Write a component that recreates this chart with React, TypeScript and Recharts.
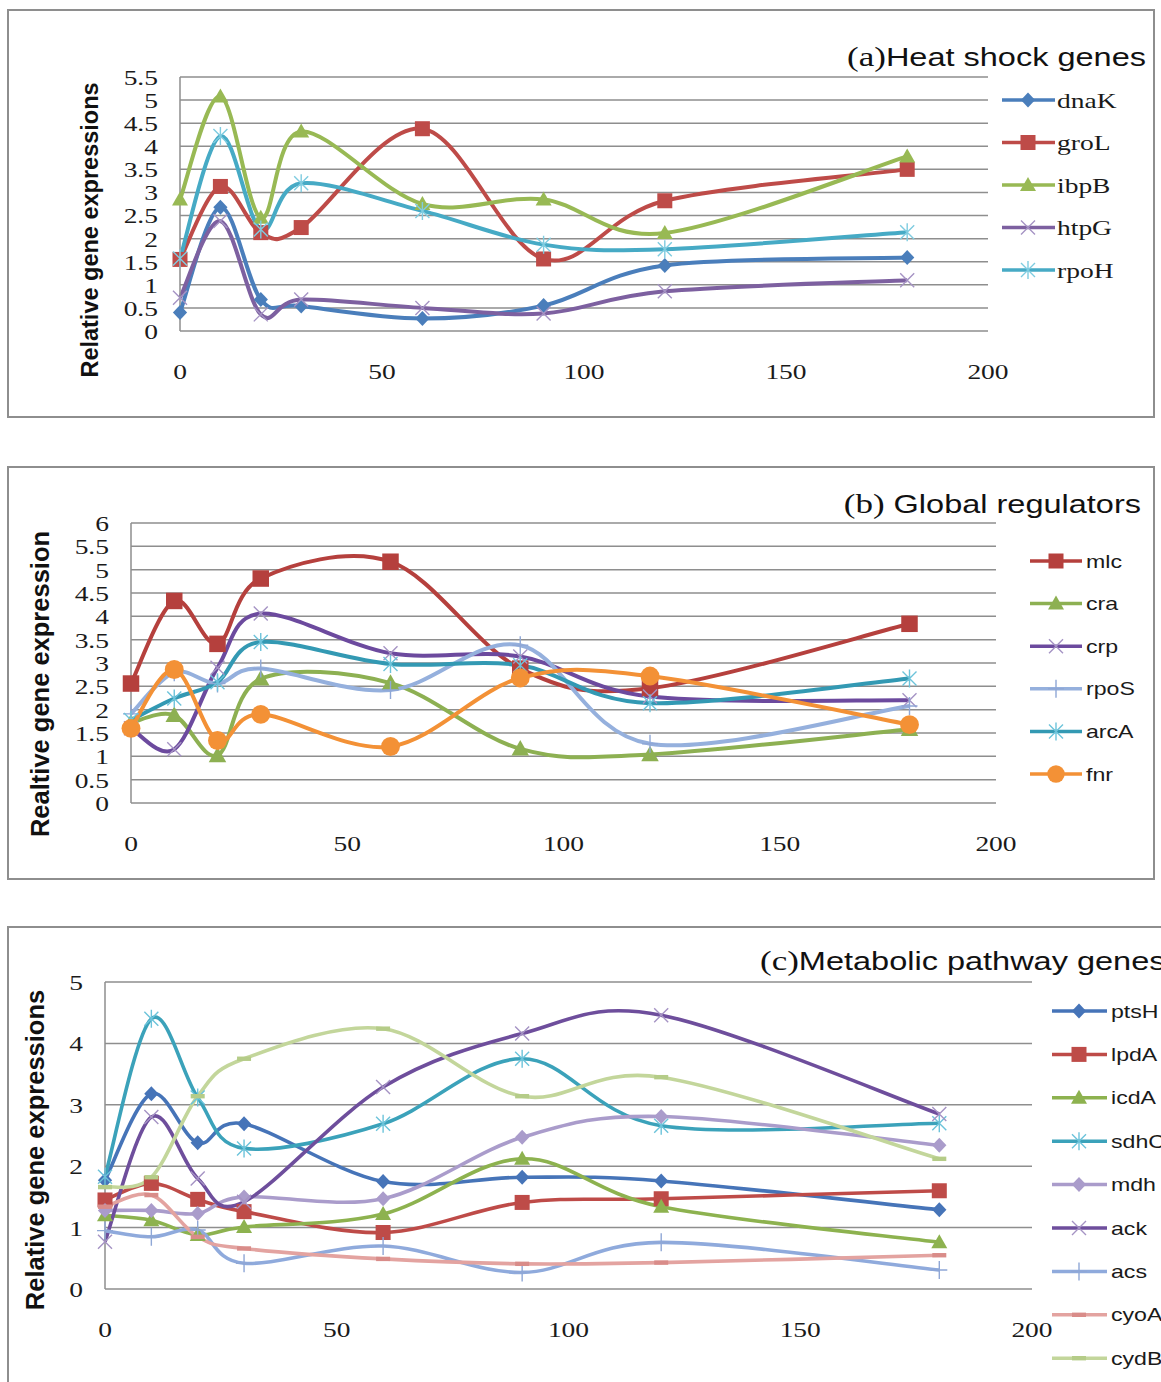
import React from "react";
import { LineChart, Line, XAxis, YAxis, CartesianGrid } from "recharts";

// sampling times (min)
const times = [0, 10, 20, 30, 60, 90, 120, 180];
const xTicks = [0, 50, 100, 150, 200];

// (a) heat shock genes
const dnaK = [0.4, 2.68, 0.68, 0.54, 0.27, 0.55, 1.42, 1.59];
const groL = [1.55, 3.13, 2.13, 2.24, 4.38, 1.56, 2.82, 3.5];
const ibpB = [2.85, 5.08, 2.45, 4.32, 2.75, 2.85, 2.12, 3.78];
const htpG = [0.72, 2.38, 0.36, 0.68, 0.5, 0.38, 0.86, 1.1];
const rpoH = [1.57, 4.22, 2.2, 3.2, 2.6, 1.87, 1.77, 2.14];
const ticksA = [0, 0.5, 1, 1.5, 2, 2.5, 3, 3.5, 4, 4.5, 5, 5.5];

// (b) global regulators
const mlc = [2.56, 4.33, 3.41, 4.81, 5.17, 2.88, 2.46, 3.84];
const cra = [1.72, 1.88, 1.02, 2.66, 2.57, 1.16, 1.04, 1.58];
const crp = [1.6, 1.15, 2.9, 4.06, 3.21, 3.14, 2.28, 2.2];
const rpoS = [1.91, 2.8, 2.56, 2.88, 2.42, 3.38, 1.27, 2.08];
const arcA = [1.78, 2.24, 2.59, 3.45, 2.98, 2.95, 2.14, 2.67];
const fnr = [1.6, 2.86, 1.34, 1.9, 1.21, 2.68, 2.72, 1.68];
const ticksB = [0, 0.5, 1, 1.5, 2, 2.5, 3, 3.5, 4, 4.5, 5, 5.5, 6];

// (c) metabolic pathway genes
const ptsH = [1.77, 3.18, 2.38, 2.69, 1.75, 1.82, 1.76, 1.29];
const lpdA = [1.45, 1.72, 1.46, 1.26, 0.92, 1.41, 1.47, 1.6];
const icdA = [1.2, 1.12, 0.88, 1.01, 1.22, 2.12, 1.34, 0.76];
const sdhC = [1.83, 4.4, 3.12, 2.29, 2.69, 3.75, 2.66, 2.7];
const mdh = [1.28, 1.28, 1.23, 1.5, 1.47, 2.47, 2.81, 2.34];
const ack = [0.77, 2.8, 1.8, 1.42, 3.29, 4.16, 4.46, 2.85];
const acs = [0.95, 0.85, 0.96, 0.42, 0.7, 0.27, 0.76, 0.31];
const cyoA = [1.34, 1.53, 0.85, 0.66, 0.49, 0.41, 0.43, 0.55];
const cydB = [1.66, 1.82, 3.14, 3.75, 4.24, 3.14, 3.45, 2.12];
const ticksC = [0, 1, 2, 3, 4, 5];

const SANS = "'Liberation Sans', Arial, sans-serif";
const SERIF = "'Liberation Serif', 'Times New Roman', serif";
const STRETCH = 1.25; // the figure is squashed wider than it is tall
const GRID = "#8e8e8e";

type Shape = "diamond" | "square" | "triangle" | "x" | "star" | "plus" | "circle" | "dash";
interface Series { name: string; values: number[]; color: string; shape: Shape; mark: string; }

const seriesA: Series[] = [
  { name: "dnaK", values: dnaK, color: "#4A7EBB", shape: "diamond", mark: "#4A7EBB" },
  { name: "groL", values: groL, color: "#BE4B48", shape: "square", mark: "#BE4B48" },
  { name: "ibpB", values: ibpB, color: "#98B954", shape: "triangle", mark: "#98B954" },
  { name: "htpG", values: htpG, color: "#7D60A0", shape: "x", mark: "#A593C4" },
  { name: "rpoH", values: rpoH, color: "#46AAC5", shape: "star", mark: "#7FCCE0" },
];
const seriesB: Series[] = [
  { name: "mlc", values: mlc, color: "#B5403D", shape: "square", mark: "#B5403D" },
  { name: "cra", values: cra, color: "#8DB052", shape: "triangle", mark: "#8DB052" },
  { name: "crp", values: crp, color: "#6C4A9E", shape: "x", mark: "#A593C4" },
  { name: "rpoS", values: rpoS, color: "#95B0DD", shape: "plus", mark: "#8FA7D6" },
  { name: "arcA", values: arcA, color: "#3399B3", shape: "star", mark: "#6CC3DA" },
  { name: "fnr", values: fnr, color: "#F39136", shape: "circle", mark: "#F39136" },
];
const seriesC: Series[] = [
  { name: "ptsH", values: ptsH, color: "#4674B8", shape: "diamond", mark: "#4674B8" },
  { name: "lpdA", values: lpdA, color: "#BE4B48", shape: "square", mark: "#BE4B48" },
  { name: "icdA", values: icdA, color: "#8DB24F", shape: "triangle", mark: "#8DB24F" },
  { name: "sdhC", values: sdhC, color: "#3BA2BA", shape: "star", mark: "#6CC3DA" },
  { name: "mdh", values: mdh, color: "#AA9CCB", shape: "diamond", mark: "#AA9CCB" },
  { name: "ack", values: ack, color: "#6E4E9C", shape: "x", mark: "#A593C4" },
  { name: "acs", values: acs, color: "#8FAADC", shape: "plus", mark: "#8FA7D6" },
  { name: "cyoA", values: cyoA, color: "#E3A3A0", shape: "dash", mark: "#D98C89" },
  { name: "cydB", values: cydB, color: "#C3D69B", shape: "dash", mark: "#B5CC88" },
];

// Excel-style smoothed line (Catmull-Rom through the points)
const excelCurve = (context: any) => {
  let pts: number[][] = [];
  return {
    areaStart() {},
    areaEnd() {},
    lineStart() { pts = []; },
    point(x: number, y: number) { pts.push([+x, +y]); },
    lineEnd() {
      const n = pts.length;
      if (!n) return;
      context.moveTo(pts[0][0], pts[0][1]);
      for (let i = 0; i < n - 1; i++) {
        const p0 = pts[Math.max(i - 1, 0)], p1 = pts[i], p2 = pts[i + 1], p3 = pts[Math.min(i + 2, n - 1)];
        context.bezierCurveTo(
          p1[0] + (p2[0] - p0[0]) / 6, p1[1] + (p2[1] - p0[1]) / 6,
          p2[0] - (p3[0] - p1[0]) / 6, p2[1] - (p3[1] - p1[1]) / 6,
          p2[0], p2[1]);
      }
    },
  };
};

function Marker({ shape, cx, cy, color, k = 1 }: { shape: Shape; cx: number; cy: number; color: string; k?: number }) {
  const s = 7.5 * k;
  switch (shape) {
    case "diamond":
      return <path d={`M${cx},${cy - s}L${cx + s * 0.95},${cy}L${cx},${cy + s}L${cx - s * 0.95},${cy}Z`} fill={color} />;
    case "square":
      return <rect x={cx - s} y={cy - s} width={2 * s} height={2 * s} fill={color} />;
    case "triangle":
      return <path d={`M${cx},${cy - s - 0.5}L${cx + s + 0.5},${cy + s - 1.5}L${cx - s - 0.5},${cy + s - 1.5}Z`} fill={color} />;
    case "circle":
      return <circle cx={cx} cy={cy} r={s + 1.2} fill={color} />;
    case "x":
      return <path d={`M${cx - 7},${cy - 7}L${cx + 7},${cy + 7}M${cx - 7},${cy + 7}L${cx + 7},${cy - 7}`} stroke={color} strokeWidth={1.4} />;
    case "star":
      return <path d={`M${cx - 7},${cy - 7}L${cx + 7},${cy + 7}M${cx - 7},${cy + 7}L${cx + 7},${cy - 7}M${cx},${cy - 9}L${cx},${cy + 9}`} stroke={color} strokeWidth={1.4} />;
    case "plus":
      return <path d={`M${cx - 8},${cy}L${cx + 8},${cy}M${cx},${cy - 9}L${cx},${cy + 9}`} stroke={color} strokeWidth={1.4} />;
    case "dash":
      return <rect x={cx - 7} y={cy - 2.2} width={14} height={4.4} fill={color} />;
  }
  return null;
}

const YTick = (p: any) => (
  <text transform={`translate(${p.x},${p.y}) scale(${STRETCH},1)`} textAnchor="end" dy="0.36em"
    fontFamily={SERIF} fontSize={22} fill="#1a1a1a">{p.payload.value}</text>
);
const XTick = (p: any) => (
  <text transform={`translate(${p.x},${p.y}) scale(${STRETCH},1)`} textAnchor="middle" dy="0.36em"
    fontFamily={SERIF} fontSize={22} fill="#1a1a1a">{p.payload.value}</text>
);

interface PanelProps {
  series: Series[]; yTicks: number[]; top: number; height: number;
  plotTop: number; plotBottom: number; plotLeft: number; plotRight: number;
  lineW: number; k: number; width?: number;
}

function Panel({ series, yTicks, top, height, plotTop, plotBottom, plotLeft, plotRight, lineW, k, width = 1161 }: PanelProps) {
  const data = times.map((t, i) => {
    const row: Record<string, number> = { t };
    series.forEach(s => { row[s.name] = s.values[i]; });
    return row;
  });
  const yW = 60, xH = 30;
  return (
    <div style={{ position: "absolute", left: 0, top }}>
      <LineChart width={width} height={height} data={data}
        margin={{ top: plotTop, right: width - plotRight, bottom: height - plotBottom - xH, left: plotLeft - yW }}>
        <CartesianGrid horizontal vertical={false} stroke={GRID} strokeWidth={1.5} />
        <XAxis dataKey="t" type="number" domain={[0, 200]} ticks={xTicks} interval={0} height={xH}
          axisLine={false} tickLine={false} tickSize={0} tickMargin={40} tick={<XTick />} />
        <YAxis type="number" domain={[yTicks[0], yTicks[yTicks.length - 1]]} ticks={yTicks} interval={0} width={yW}
          axisLine={{ stroke: GRID, strokeWidth: 1.5 }} tickLine={false} tickSize={0} tickMargin={22} tick={<YTick />} />
        {series.map(s => (
          <Line key={s.name} dataKey={s.name} type={excelCurve as any} stroke={s.color} strokeWidth={lineW}
            isAnimationActive={false} activeDot={false}
            dot={(p: any) => <g key={`${s.name}-${p.index}`}><Marker shape={s.shape} cx={p.cx} cy={p.cy} color={s.mark} k={k} /></g>} />
        ))}
      </LineChart>
    </div>
  );
}

interface LegendProps {
  series: Series[]; x0: number; x1: number; xm: number; xt: number; y0: number; gap: number;
  font: string; size: number;
}

function LegendBlock({ series, x0, x1, xm, xt, y0, gap, font, size }: LegendProps) {
  return (
    <g>
      {series.map((s, i) => {
        const y = y0 + i * gap;
        return (
          <g key={s.name}>
            <line x1={x0} x2={x1} y1={y} y2={y} stroke={s.color} strokeWidth={3.5} />
            <Marker shape={s.shape} cx={xm} cy={y} color={s.mark} />
            <text transform={`translate(${xt},${y}) scale(${STRETCH},1)`} dy="0.36em" fontFamily={font}
              fontSize={size} fill="#1a1a1a">{s.name}</text>
          </g>
        );
      })}
    </g>
  );
}

const boxStyle = (left: number, top: number, w: number, h: number): React.CSSProperties => ({
  position: "absolute", left, top, width: w, height: h, border: `2px solid ${GRID}`, boxSizing: "border-box",
});

export default function App() {
  return (
    <div style={{ position: "absolute", left: 0, top: 0, width: 1161, height: 1382, overflow: "hidden", background: "#fff" }}>
      <div style={boxStyle(7, 9, 1148, 409)} />
      <div style={boxStyle(7, 466, 1148, 414)} />
      <div style={boxStyle(7, 926, 1180, 500)} />

      <Panel series={seriesA} yTicks={ticksA} top={0} height={420} plotTop={77} plotBottom={331} plotLeft={180} plotRight={988} lineW={4} k={1} />
      <Panel series={seriesB} yTicks={ticksB} top={460} height={420} plotTop={63} plotBottom={343} plotLeft={131} plotRight={996} lineW={4} k={1.1} />
      <Panel series={seriesC} yTicks={ticksC} top={920} height={462} plotTop={62} plotBottom={369} plotLeft={105} plotRight={1032} lineW={3.6} k={1} />

      <svg width={1161} height={1382} style={{ position: "absolute", left: 0, top: 0, pointerEvents: "none" }}>
        {/* titles */}
        <text transform={`translate(1146,66) scale(${STRETCH},1)`} textAnchor="end" fill="#111">
          <tspan fontFamily={SERIF} fontSize={28}>(a)</tspan>
          <tspan fontFamily={SANS} fontSize={26}>Heat shock genes</tspan>
        </text>
        <text transform={`translate(1141,513) scale(${STRETCH},1)`} textAnchor="end" fill="#111">
          <tspan fontFamily={SERIF} fontSize={28}>(b)</tspan>
          <tspan fontFamily={SANS} fontSize={26}> Global regulators</tspan>
        </text>
        <text transform={`translate(760,970) scale(${STRETCH},1)`} fill="#111">
          <tspan fontFamily={SERIF} fontSize={28}>(c)</tspan>
          <tspan fontFamily={SANS} fontSize={26}>Metabolic pathway genes</tspan>
        </text>

        {/* y axis titles */}
        <text transform="translate(90,230) rotate(-90)" textAnchor="middle" dy="0.36em" fontFamily={SANS}
          fontWeight="bold" fontSize={23.5} fill="#111">Relative gene expressions</text>
        <text transform="translate(40,684) rotate(-90)" textAnchor="middle" dy="0.36em" fontFamily={SANS}
          fontWeight="bold" fontSize={25.5} fill="#111">Realtive gene expression</text>
        <text transform="translate(35,1150) rotate(-90)" textAnchor="middle" dy="0.36em" fontFamily={SANS}
          fontWeight="bold" fontSize={25.5} fill="#111">Relative gene expressions</text>

        <LegendBlock series={seriesA} x0={1002} x1={1055} xm={1028} xt={1057} y0={100} gap={42.5} font={SERIF} size={22} />
        <LegendBlock series={seriesB} x0={1030} x1={1082} xm={1056} xt={1086} y0={561} gap={42.6} font={SANS} size={18.5} />
        <LegendBlock series={seriesC} x0={1052} x1={1107} xm={1079} xt={1111} y0={1011} gap={43.4} font={SANS} size={18.5} />
      </svg>
    </div>
  );
}
